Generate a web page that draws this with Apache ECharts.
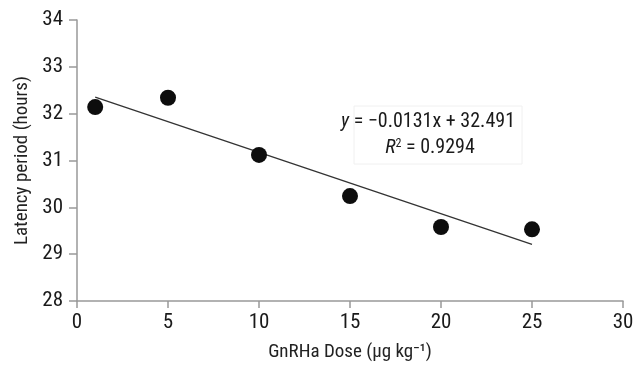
<!DOCTYPE html>
<html><head><meta charset="utf-8">
<script src="https://cdn.jsdelivr.net/npm/echarts@6/dist/echarts.min.js"></script>
<style>html,body{margin:0;padding:0;background:#fff}#c{width:644px;height:369px}</style>
</head><body><div id="c"></div>
<script>
const doses = [1, 5, 10, 15, 20, 25];
const latency = [32.14, 32.34, 31.12, 30.24, 29.58, 29.53];
const xTicks = [0, 5, 10, 15, 20, 25, 30];
const yTicks = [28, 29, 30, 31, 32, 33, 34];
const eqLine1 = '{i|y} = \u22120.0131x + 32.491';
const eqLine2 = '{i|R}{s|2} = 0.9294';

// least squares fit from data
const n = doses.length;
const mx = doses.reduce((a,b)=>a+b,0)/n;
const my = latency.reduce((a,b)=>a+b,0)/n;
let sxy=0,sxx=0;
for(let i=0;i<n;i++){sxy+=(doses[i]-mx)*(latency[i]-my);sxx+=(doses[i]-mx)**2;}
const slope=sxy/sxx, icpt=my-slope*mx;
const xFirst=doses[0], xLast=doses[n-1];
const trend=[[xFirst,icpt+slope*xFirst],[xLast,icpt+slope*xLast]];

const font = '"Roboto Condensed","Liberation Sans Narrow","Liberation Sans",Arial,sans-serif';
const chart = echarts.init(document.getElementById('c'));
chart.setOption({
  animation:false,
  grid:{left:77,right:21,top:20,bottom:68},
  xAxis:{type:'value',min:xTicks[0],max:xTicks[xTicks.length-1],interval:5,
    name:'GnRHa Dose (\u03bcg kg\u207b\u00b9)',nameLocation:'middle',nameGap:42,
    nameTextStyle:{fontFamily:font,fontSize:19,color:'#222'},
    axisLine:{lineStyle:{color:'#999',width:1.5}},
    axisTick:{show:true,length:7,lineStyle:{color:'#999',width:1.5}},
    axisLabel:{fontFamily:font,fontSize:21,color:'#1a1a1a',margin:11},
    splitLine:{show:false}},
  yAxis:{type:'value',min:yTicks[0],max:yTicks[yTicks.length-1],interval:1,
    name:'Latency period (hours)',nameLocation:'middle',nameGap:42,
    nameTextStyle:{fontFamily:font,fontSize:19,color:'#222'},
    axisLine:{show:true,lineStyle:{color:'#999',width:1.5}},
    axisTick:{show:true,length:8,lineStyle:{color:'#999',width:1.5}},
    axisLabel:{fontFamily:font,fontSize:21,color:'#1a1a1a',margin:14},
    splitLine:{show:false}},
  graphic:[
    {type:'rect',shape:{x:354,y:106,width:168,height:58},style:{fill:'#fff',stroke:'#f0f0f0',lineWidth:1},z:10},
    {type:'text',x:428,y:122,z:11,style:{text:eqLine1,align:'center',verticalAlign:'middle',
      font:'20px '+font,fill:'#1a1a1a',rich:{i:{fontStyle:'italic',fontFamily:font,fontSize:20,fill:'#1a1a1a'}}}},
    {type:'text',x:430,y:148,z:11,style:{text:eqLine2,align:'center',verticalAlign:'middle',
      font:'20px '+font,fill:'#1a1a1a',rich:{i:{fontStyle:'italic',fontFamily:font,fontSize:20,fill:'#1a1a1a'},s:{fontSize:12,fontFamily:font,fill:'#1a1a1a',verticalAlign:'top',padding:[0,0,9,0]}}}}
  ],
  series:[
    {type:'line',data:trend,symbol:'none',lineStyle:{color:'#333',width:1.3},z:2},
    {type:'scatter',data:doses.map((d,i)=>[d,latency[i]]),symbolSize:16,itemStyle:{color:'#0d0d0d',opacity:1},z:3}
  ]
});
</script></body></html>
